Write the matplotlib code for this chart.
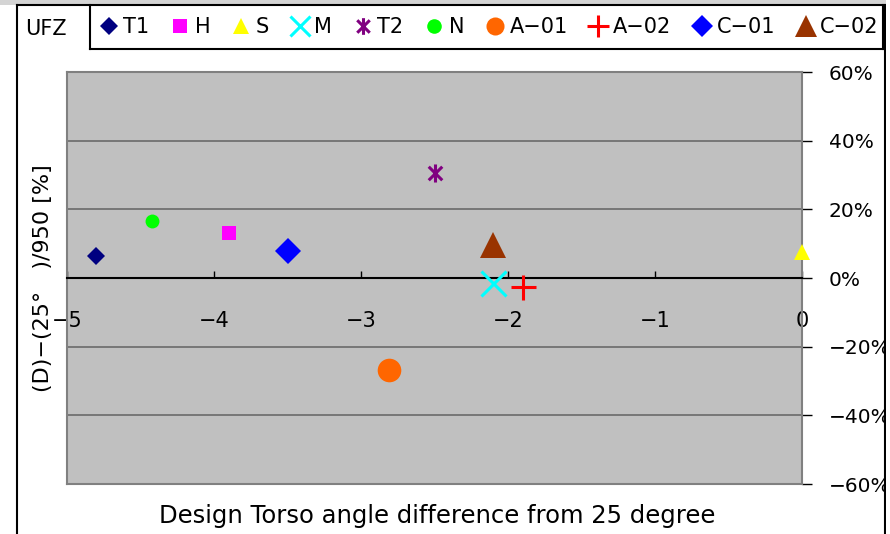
import matplotlib
matplotlib.use("Agg")
import matplotlib.pyplot as plt
from matplotlib.lines import Line2D
from matplotlib.patches import Rectangle
from matplotlib.path import Path

plt.rcParams['font.family'] = ['DejaVu Sans', 'Noto Sans CJK JP']

# data
labels = ['T1', 'H', 'S', 'M', 'T2', 'N', 'A\u221201', 'A\u221202', 'C\u221201', 'C\u221202']
x_vals = [-4.80, -3.90, 0.00, -2.10, -2.50, -4.42, -2.81, -1.90, -3.50, -2.10]
y_vals = [6.5, 13.0, 7.5, -1.6, 30.7, 16.7, -26.9, -2.5, 8.0, 9.5]

colors = ['#000080', '#ff00ff', '#ffff00', '#00ffff', '#800080',
          '#00ff00', '#ff6600', '#ff0000', '#0000ff', '#993300']

star = Path([(0, -1), (0, 1), (-0.75, -0.75), (0.75, 0.75), (-0.75, 0.75), (0.75, -0.75)],
            [Path.MOVETO, Path.LINETO, Path.MOVETO, Path.LINETO, Path.MOVETO, Path.LINETO])
markers = ['D', 's', '^', 'x', star, 'o', 'o', '+', 'D', '^']
sizes = [8.7, 10, 12, 18, 13, 10, 17, 18, 13.2, 19]
legend_sizes = [8.7, 10.5, 12, 14.5, 12, 10.5, 13, 16, 11, 16]

x_ticks = [-5, -4, -3, -2, -1, 0]
y_ticks = [-60, -40, -20, 0, 20, 40, 60]

W, H = 890, 534
fig = plt.figure(figsize=(W / 100, H / 100), dpi=100)
ax = fig.add_axes([67 / W, 1 - 484 / H, (802 - 67) / W, (484 - 72) / H])
ax.set_facecolor('#c0c0c0')

for i in range(len(labels)):
    line_marker = markers[i] in ('x', '+') or markers[i] is star
    ax.plot(x_vals[i], y_vals[i], linestyle='none', marker=markers[i],
            markersize=sizes[i], color=colors[i],
            markeredgewidth=2.2 if line_marker else 0,
            label=labels[i], clip_on=False, zorder=5)

ax.set_xlim(-5, 0)
ax.set_ylim(-60, 60)

# spines
ax.spines['bottom'].set_position(('data', 0))
ax.spines['bottom'].set_color('black')
ax.spines['bottom'].set_linewidth(1.5)
for s in ('left', 'top', 'right'):
    ax.spines[s].set_color('#808080')
    ax.spines[s].set_linewidth(1.5)
ax.axhline(-60, color='#808080', lw=1.5, clip_on=False, zorder=1)

ax.grid(axis='y', color='#6a6a6a', linewidth=1.2)
ax.set_axisbelow(True)

ax.set_xticks(x_ticks)
ax.set_xticklabels(['\u2212%d' % abs(v) if v < 0 else '%d' % v for v in x_ticks])
ax.tick_params(axis='x', direction='in', length=5, width=1, pad=24,
               labelsize=15, colors='black')

ax.yaxis.tick_right()
ax.set_yticks(y_ticks)
ax.set_yticklabels([('\u2212%d%%' % abs(v)) if v < 0 else '%d%%' % v for v in y_ticks])
ax.tick_params(axis='y', direction='out', length=7.2, width=1, pad=12,
               labelsize=14.5, colors='black')
for lbl in ax.get_yticklabels():
    lbl.set_clip_on(False)

fig.text(43 / W, 1 - 278 / H, '(D)\u2212(25\u00b0\u3000)/950 [%]', rotation=90,
         ha='center', va='center', fontsize=16)
fig.text(437 / W, 1 - 516 / H, 'Design Torso angle difference from 25 degree',
         ha='center', va='center', fontsize=17.5)

# legend along the top
leg = fig.legend(loc='center left', bbox_to_anchor=(92 / W, 1 - 49 / H, (883 - 92) / W, 44 / H),
                 mode='expand', ncol=10, fontsize=15, frameon=False,
                 handletextpad=0.1, columnspacing=0.3, handlelength=1.2,
                 borderaxespad=0, borderpad=0.2)
for h, ms in zip(leg.legend_handles, legend_sizes):
    h.set_markersize(ms)

# background strip and outer frame
fig.add_artist(Rectangle((0, 1 - 5 / H), 1, 5 / H, transform=fig.transFigure,
                         facecolor='#d4d4d4', edgecolor='none', zorder=0))
frame_kw = dict(transform=fig.transFigure, color='black', lw=1.5)
fig.add_artist(Line2D([17 / W, 17 / W], [0, 1 - 5 / H], **frame_kw))
fig.add_artist(Line2D([17 / W, 885 / W], [1 - 5 / H, 1 - 5 / H], **frame_kw))
fig.add_artist(Line2D([885 / W, 885 / W], [0, 1 - 5 / H], **frame_kw))
fig.add_artist(Line2D([90 / W, 90 / W], [1 - 49 / H, 1 - 5 / H], **frame_kw))
fig.add_artist(Line2D([90 / W, 883 / W], [1 - 49 / H, 1 - 49 / H], **frame_kw))
fig.add_artist(Line2D([883 / W, 883 / W], [1 - 49 / H, 1 - 5 / H], **frame_kw))
fig.add_artist(Rectangle((886 / W, 0), 4 / W, 1, transform=fig.transFigure,
                         facecolor='white', edgecolor='none', zorder=10))
fig.text(46 / W, 1 - 29 / H, 'UFZ', ha='center', va='center', fontsize=15)

fig.savefig('out.png', dpi=100)
